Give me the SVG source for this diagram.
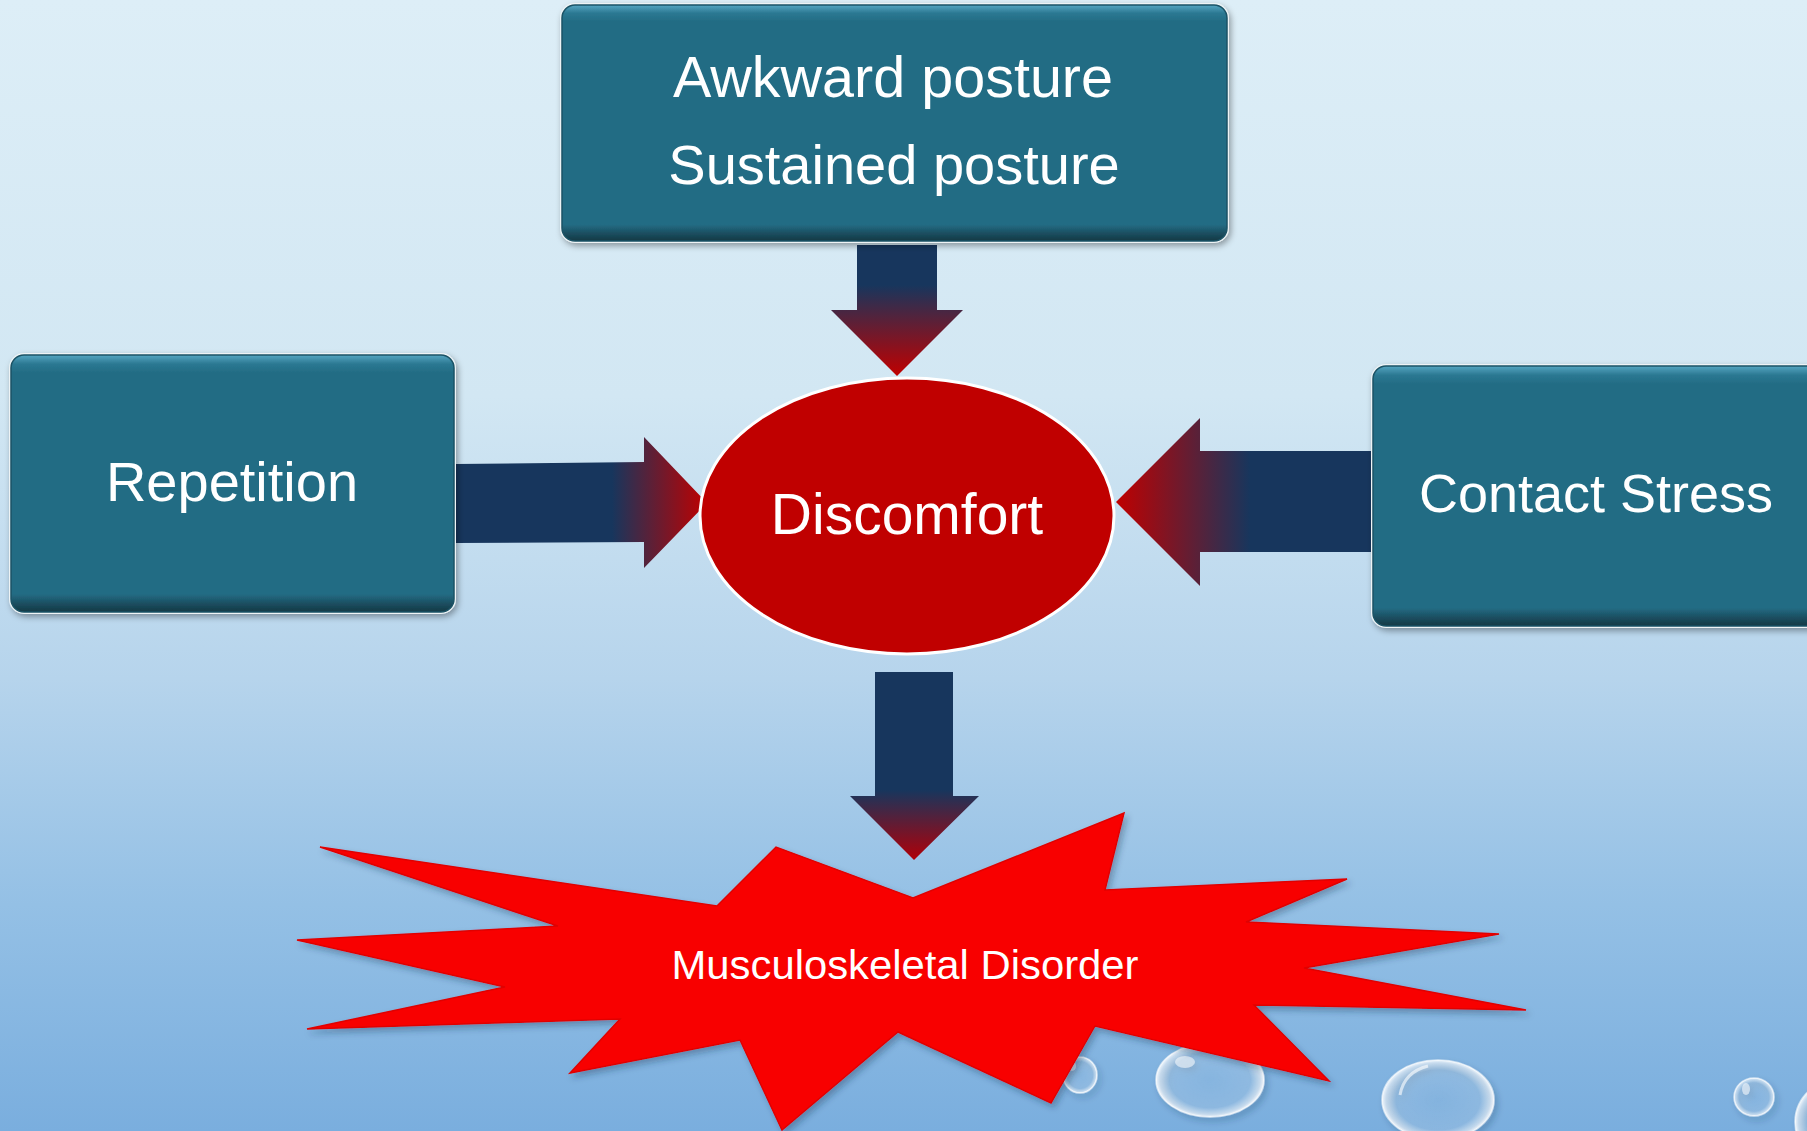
<svg xmlns="http://www.w3.org/2000/svg" width="1807" height="1131" viewBox="0 0 1807 1131">
  <defs>
    <linearGradient id="bg" x1="0" y1="0" x2="0" y2="1">
      <stop offset="0" stop-color="#ddeef7"/>
      <stop offset="0.35" stop-color="#d2e7f3"/>
      <stop offset="0.6" stop-color="#b6d4ec"/>
      <stop offset="0.8" stop-color="#94c0e5"/>
      <stop offset="1" stop-color="#7aaede"/>
    </linearGradient>
    <linearGradient id="boxGrad" x1="0" y1="0" x2="0" y2="1">
      <stop offset="0" stop-color="#56a6c2"/>
      <stop offset="0.035" stop-color="#2b7892"/>
      <stop offset="0.07" stop-color="#236c84"/>
      <stop offset="0.93" stop-color="#236c84"/>
      <stop offset="0.965" stop-color="#1c5063"/>
      <stop offset="1" stop-color="#143844"/>
    </linearGradient>
    <linearGradient id="gTop" gradientUnits="userSpaceOnUse" x1="0" y1="285" x2="0" y2="376">
      <stop offset="0" stop-color="#17365d"/>
      <stop offset="1" stop-color="#c00000"/>
    </linearGradient>
    <linearGradient id="gLeft" gradientUnits="userSpaceOnUse" x1="612" y1="0" x2="707" y2="0">
      <stop offset="0" stop-color="#17365d"/>
      <stop offset="1" stop-color="#c00000"/>
    </linearGradient>
    <linearGradient id="gRight" gradientUnits="userSpaceOnUse" x1="1250" y1="0" x2="1116" y2="0">
      <stop offset="0" stop-color="#17365d"/>
      <stop offset="1" stop-color="#c00000"/>
    </linearGradient>
    <linearGradient id="gBottom" gradientUnits="userSpaceOnUse" x1="0" y1="790" x2="0" y2="860">
      <stop offset="0" stop-color="#17365d"/>
      <stop offset="1" stop-color="#b00008"/>
    </linearGradient>
    <radialGradient id="drop" cx="0.5" cy="0.5" r="0.5">
      <stop offset="0" stop-color="#ffffff" stop-opacity="0.05"/>
      <stop offset="0.75" stop-color="#ffffff" stop-opacity="0.12"/>
      <stop offset="0.93" stop-color="#ffffff" stop-opacity="0.55"/>
      <stop offset="1" stop-color="#ffffff" stop-opacity="0.9"/>
    </radialGradient>
    <filter id="shadow" x="-10%" y="-10%" width="120%" height="130%">
      <feDropShadow dx="2" dy="3" stdDeviation="3" flood-color="#000000" flood-opacity="0.35"/>
    </filter>
    <filter id="dropShadow" x="-20%" y="-20%" width="150%" height="150%">
      <feDropShadow dx="3" dy="4" stdDeviation="3" flood-color="#1a3550" flood-opacity="0.35"/>
    </filter>
    <style>
      .edge { fill: #eef3f5; }
      .box { fill: url(#boxGrad); stroke: #1b5366; stroke-width: 1.5; }
      .lbl { font-family: "Liberation Sans", Arial, sans-serif; fill: #ffffff; text-anchor: middle; }
      .big { font-size: 56px; }
      .drop { fill: url(#drop); stroke: #ffffff; stroke-opacity: 0.6; stroke-width: 1.5; }
      .hl { fill: #ffffff; fill-opacity: 0.55; }
    </style>
  </defs>

  <rect x="0" y="0" width="1807" height="1131" fill="url(#bg)"/>

  <g id="bubbles" filter="url(#dropShadow)">
    <ellipse class="drop" cx="1080" cy="1075" rx="17" ry="18"/>
    <ellipse class="hl" cx="1072" cy="1066" rx="4" ry="5"/>
    <ellipse class="drop" cx="1210" cy="1080" rx="54" ry="37"/>
    <ellipse class="hl" cx="1185" cy="1062" rx="10" ry="6"/>
    <ellipse class="drop" cx="1438" cy="1100" rx="56" ry="40"/>
    <path d="M1400 1095 Q1404 1072 1428 1066" fill="none" stroke="#ffffff" stroke-opacity="0.6" stroke-width="3"/>
    <ellipse class="drop" cx="1754" cy="1097" rx="20" ry="19"/>
    <ellipse class="hl" cx="1746" cy="1089" rx="4" ry="6"/>
    <ellipse class="drop" cx="1845" cy="1122" rx="50" ry="45"/>
  </g>

  <g id="connectors">
    <polygon id="arrow-top" points="857,245 937,245 937,310 963,310 897,376 831,310 857,310" fill="url(#gTop)"/>
    <polygon id="arrow-left" points="455,464 644,462 644,437 707,503 644,568 644,542 455,543" fill="url(#gLeft)"/>
    <polygon id="arrow-right" points="1373,451 1200,451 1200,418 1116,502 1200,586 1200,552 1373,552" fill="url(#gRight)"/>
    <polygon id="arrow-bottom" points="875,672 953,672 953,796 979,796 914,860 850,796 875,796" fill="url(#gBottom)"/>
  </g>

  <g id="node-posture" filter="url(#shadow)">
    <rect class="edge" x="560" y="3" width="669" height="240" rx="15"/>
    <rect class="box" x="562" y="5" width="665" height="236" rx="13"/>
    <text class="lbl" x="893" y="97" font-size="57.5">Awkward posture</text>
    <text class="lbl big" x="894" y="184">Sustained posture</text>
  </g>

  <g id="node-repetition" filter="url(#shadow)">
    <rect class="edge" x="9" y="353" width="447" height="261" rx="15"/>
    <rect class="box" x="11" y="355" width="443" height="257" rx="13"/>
    <text class="lbl big" x="232" y="501">Repetition</text>
  </g>

  <g id="node-contact" filter="url(#shadow)">
    <rect class="edge" x="1371" y="364" width="460" height="264" rx="15"/>
    <rect class="box" x="1373" y="366" width="456" height="260" rx="13"/>
    <text class="lbl" x="1596" y="512" font-size="54">Contact Stress</text>
  </g>

  <g id="node-discomfort">
    <ellipse cx="907" cy="516" rx="207" ry="138" fill="#c00000" stroke="#ffffff" stroke-width="3"/>
    <text class="lbl" x="907" y="534" font-size="57">Discomfort</text>
  </g>

  <g id="node-msd">
    <polygon filter="url(#dropShadow)" points="320,847 717,906 776,847 913,898 1124,813 1105,890 1347,879 1246,922 1499,934 1304,968 1526,1010 1254,1005 1329,1081 1095,1026 1051,1103 898,1032 782,1130 740,1040 570,1073 620,1019 307,1029 505,987 297,940 558,926" fill="#f80404" stroke="#e00000" stroke-width="1.5" stroke-linejoin="miter"/>
    <text class="lbl" x="905" y="979" font-size="40" textLength="467" lengthAdjust="spacingAndGlyphs">Musculoskeletal Disorder</text>
  </g>
</svg>
